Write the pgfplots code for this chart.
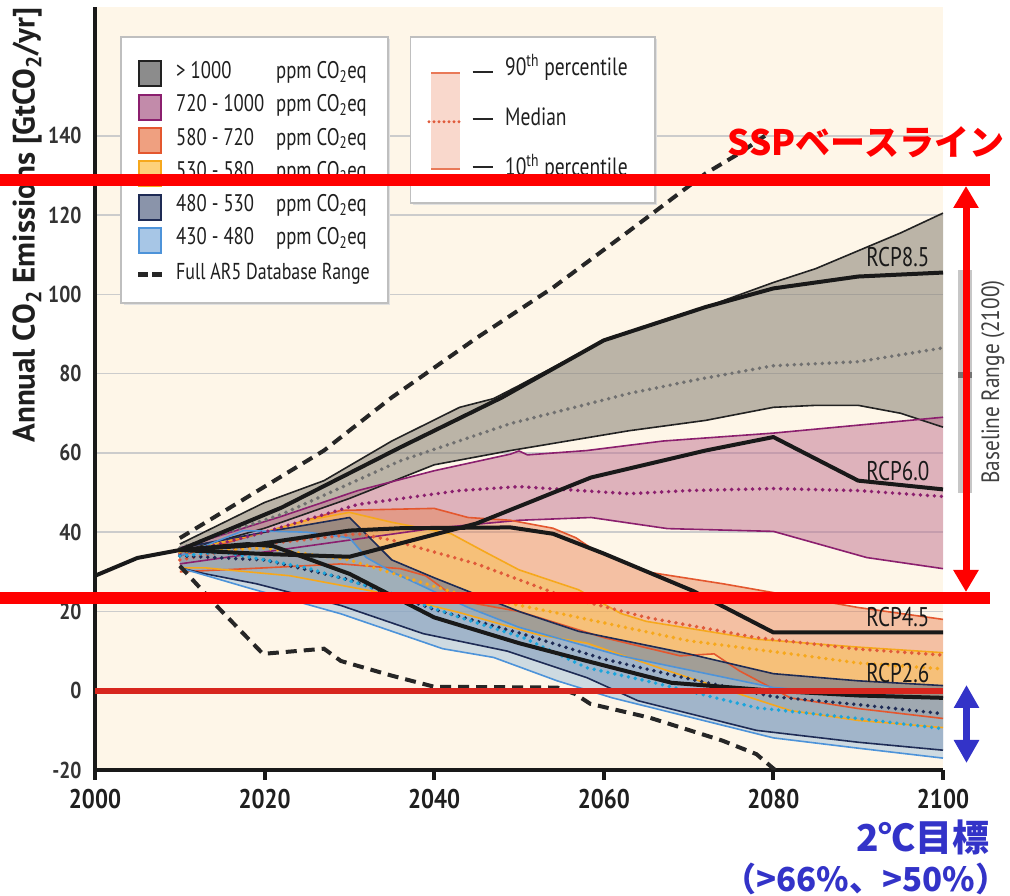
\documentclass[border=0pt]{standalone}
\usepackage{fontspec}
\setmainfont{PT Sans}[FakeStretch=0.85]
\newfontfamily\cond{PT Sans}[FakeStretch=0.78]
\newfontfamily\plain{PT Sans}
\newfontfamily\jp{Noto Sans CJK JP}
\usepackage{pgfplots}
\pgfplotsset{compat=1.18}
\usepgfplotslibrary{fillbetween}
\usetikzlibrary{arrows.meta}

\definecolor{bgbeige}{HTML}{FEF6E8}
\definecolor{zerored}{HTML}{D7261E}
\definecolor{sspred}{HTML}{FF0000}
\definecolor{goalblue}{HTML}{3333C8}
% band edges
\definecolor{egray}{HTML}{222222}
\definecolor{epurple}{HTML}{8B1F6E}
\definecolor{esalmon}{HTML}{E4572E}
\definecolor{eyellow}{HTML}{F6A81C}
\definecolor{enavy}{HTML}{1E2B55}
\definecolor{eblue}{HTML}{4D93D9}
% medians
\definecolor{mgray}{HTML}{707070}
\definecolor{mcyan}{HTML}{1BA5DC}
\definecolor{msalmon}{HTML}{E05A3A}
% band fills
\definecolor{fgray}{HTML}{857F72}
\definecolor{fpurple}{HTML}{C07090}
\definecolor{fsalmon}{HTML}{E88050}
\definecolor{fyellow}{HTML}{F8C050}
\definecolor{fnavy}{HTML}{5A6E92}
\definecolor{fblue}{HTML}{A0C0DC}
% legend swatches
\definecolor{sgray}{HTML}{8C8C8C}
\definecolor{spurple}{HTML}{C28BAA}
\definecolor{ssalmon}{HTML}{EFA080}
\definecolor{syellow}{HTML}{FDD17A}
\definecolor{snavy}{HTML}{8A94AA}
\definecolor{sblue}{HTML}{A7C6E6}
\definecolor{pctfill}{HTML}{F9D8CC}

\tikzset{
  bandedge/.style={line width=1.6pt, line join=round},
  medline/.style={line width=3.9pt, line cap=round, dash pattern=on 0pt off 7pt},
  rcpline/.style={line width=4pt, color=black!90, line join=round},
  dbrange/.style={line width=4pt, color=black!85, dash pattern=on 11pt off 7pt},
}

\begin{document}
\begin{tikzpicture}[x=1pt,y=1pt]

\begin{axis}[
  set layers,
  at={(95pt,125pt)}, anchor=south west,
  scale only axis, width=848pt, height=763pt,
  xmin=2000, xmax=2100, ymin=-20, ymax=172.5,
  axis lines=left,
  axis line style={-, line width=4pt, color=black!90},
  xtick={2000,2020,...,2100}, ytick={-20,0,...,140},
  tick align=outside, major tick length=10pt,
  xtick style={line width=4pt, color=black!90},
  ytick style={draw=none},
  ymajorgrids, grid style={line width=1.5pt, color=black!20},
  axis background/.style={fill=bgbeige},
  /pgf/number format/1000 sep={},
  /pgf/number format/assume math mode=true,
  xticklabel style={font=\fontsize{27}{29}\selectfont\bfseries, text=black!88, yshift=-8pt, inner sep=1pt},
  yticklabel style={font=\fontsize{23}{25}\selectfont\bfseries, text=black!80},
]

% ---------- > 1000 ppm ----------
\addplot[bandedge, egray, name path=gu] coordinates {
 (2010,37) (2020,47.5) (2027,53) (2035,63) (2043,71.5) (2047,73.7) (2050,77)
 (2060,88.4) (2072,96.8) (2080,103) (2085,106.5) (2090,111) (2095,115.5) (2100,120.5)};
\addplot[bandedge, egray, name path=gl] coordinates {
 (2010,35) (2020,41) (2030,48.5) (2040,57) (2049,60.6) (2063,65.6) (2072,68.2)
 (2080,71.5) (2085,72) (2090,72) (2095,70) (2100,66.5)};
\addplot[fill=fgray, fill opacity=0.55, draw=none] fill between[of=gu and gl];

% ---------- 720-1000 ppm ----------
\addplot[bandedge, epurple, name path=pu] coordinates {
 (2010,36) (2022,44) (2031,50.5) (2040,55.5) (2049,59.7) (2050,60.5) (2051,59.5)
 (2058,60.6) (2067,63) (2080,65) (2090,67) (2100,69)};
\addplot[bandedge, epurple, name path=pl] coordinates {
 (2010,32) (2020,35) (2030,38) (2040,41) (2050,43) (2058.5,43.7) (2067.5,40.9)
 (2080,40.2) (2091,33.6) (2100,30.8)};
\addplot[fill=fpurple, fill opacity=0.5, draw=none] fill between[of=pu and pl];

% ---------- 580-720 ppm ----------
\addplot[bandedge, esalmon, name path=su] coordinates {
 (2010,34) (2020,40) (2029,45.5) (2040,46) (2044,43.7) (2049,43) (2054,41)
 (2056.7,38.6) (2058.5,36) (2065,30) (2074,27) (2082,24) (2090,21) (2100,18)};
\addplot[bandedge, esalmon, name path=sl] coordinates {
 (2010,30) (2020,31) (2029,32) (2036,30.8) (2039,29) (2043,22.7) (2050,20)
 (2060,13.4) (2069,8.8) (2073,9.3) (2076,5) (2082,-1.8) (2090,-4.5) (2100,-7)};
\addplot[fill=fsalmon, fill opacity=0.45, draw=none] fill between[of=su and sl];

% ---------- 530-580 ppm ----------
\addplot[bandedge, eyellow, name path=yu] coordinates {
 (2010,35) (2020,40) (2025,43) (2030,45) (2035,42.5) (2042,39.6) (2046,35)
 (2050,30.5) (2057,25.5) (2062,19.5) (2065,17.5) (2078,13) (2090,11) (2100,9.6)};
\addplot[bandedge, eyellow, name path=yl] coordinates {
 (2010,31) (2013,31) (2023,29) (2033,25) (2043,19.7) (2052.5,14) (2058,12)
 (2067.6,5) (2082,-5) (2090,-7.5) (2100,-9.3)};
\addplot[fill=fyellow, fill opacity=0.5, draw=none] fill between[of=yu and yl];

% ---------- 480-530 ppm ----------
\addplot[bandedge, enavy, name path=nu] coordinates {
 (2010,36) (2020,40) (2030,43.7) (2035,33) (2040,28.5) (2050,20) (2057,15)
 (2070,9.3) (2080,4.3) (2090,2.5) (2100,1.3)};
\addplot[bandedge, enavy, name path=nl] coordinates {
 (2010,31) (2013,29.5) (2019,27) (2029,21.5) (2038.7,14.4) (2048.6,10) (2058,3.3)
 (2064,-2.5) (2078,-10) (2090,-13) (2100,-15)};
\addplot[fill=fnavy, fill opacity=0.55, draw=none] fill between[of=nu and nl];

% ---------- 430-480 ppm ----------
\addplot[bandedge, eblue, name path=bu] coordinates {
 (2010,34) (2017.5,40.4) (2025,40) (2030,38.6) (2032,33.6) (2035,30) (2044,21)
 (2050,16) (2062,8.8) (2080,0.8) (2090,-0.8) (2100,-1.8)};
\addplot[bandedge, eblue, name path=bl] coordinates {
 (2010,31) (2018,26) (2029,19.4) (2035,15) (2041,10.6) (2047,8.4) (2054.5,2.5)
 (2061,-1.8) (2080,-11.9) (2090,-14.5) (2100,-17)};
\addplot[fill=fblue, fill opacity=0.5, draw=none] fill between[of=bu and bl];

% ---------- medians ----------
\addplot[medline, mgray] coordinates {
 (2010,36) (2022,44.5) (2036,58) (2049,67.4) (2063,75) (2071,78.5) (2080,82)
 (2090,83) (2100,86.5)};
\addplot[medline, epurple] coordinates {
 (2010,34.5) (2020,40) (2031,47) (2043,50.5) (2050,51.5) (2063,49.7) (2070,50.5)
 (2080,51) (2090,50.5) (2100,49)};
\addplot[medline, msalmon] coordinates {
 (2010,33) (2020,37) (2031,39.6) (2035,38) (2040,35) (2045,32) (2055,24)
 (2065,18.5) (2078,13.4) (2090,10.5) (2100,9)};
\addplot[medline, eyellow] coordinates {
 (2010,35) (2020,36) (2030,33) (2042,25) (2055,19.4) (2070,12.6) (2082,9.3)
 (2090,7) (2100,5.5)};
\addplot[medline, enavy] coordinates {
 (2010,34) (2020,33) (2030,28) (2040,20.5) (2050,14.6) (2060,8) (2070,3)
 (2080,-1.5) (2090,-3.5) (2100,-5.8)};
\addplot[medline, mcyan] coordinates {
 (2010,34) (2015,35) (2025,31) (2035,24.5) (2043,18.5) (2050.5,13.4) (2058,5.8)
 (2065,2.5) (2078,-4.3) (2090,-7) (2100,-9.6)};

% ---------- RCP pathways and history ----------
\addplot[rcpline] coordinates {(2000,29) (2005,33.5) (2010,35.5)};
\addplot[rcpline] coordinates {
 (2010,35.5) (2022,46.2) (2036,61.4) (2048,74) (2060,88.4) (2072,96.8)
 (2080,101.5) (2090,104.5) (2100,105.5)};
\addplot[rcpline] coordinates {
 (2010,35.5) (2020,34.5) (2030,33.8) (2045,42.2) (2058.5,53.8) (2072,60.6)
 (2080,64) (2090,53) (2100,50.8)};
\addplot[rcpline] coordinates {
 (2010,35.5) (2018,36.6) (2030,40.4) (2036,41) (2049,41.2) (2054,39.6) (2060,34.6)
 (2070.5,25.2) (2080,14.7) (2100,14.7)};
\addplot[rcpline] coordinates {
 (2010,35.5) (2018,37) (2021,36.5) (2030,29.5) (2040,18.5) (2050,12) (2058,7.5)
 (2068,2) (2080,0) (2090,-1.2) (2100,-1.8)};

% ---------- full database range ----------
\addplot[dbrange] coordinates {
 (2010,38.5) (2020,51.5) (2027,60.6) (2035,74) (2045,89) (2054,101.7) (2063,116)
 (2072,130.5) (2076,135.6) (2079,140)};
\addplot[dbrange] coordinates {
 (2010,31.5) (2014.3,21.5) (2019.8,9.3) (2027,10.6) (2029,7.5) (2035,3.8) (2040,1)
 (2054.5,0.8) (2056.6,-0.8) (2058.4,-3.3) (2065.4,-6.8) (2074,-12.6) (2078,-16)
 (2080.2,-20)};

% zero line
\addplot[zerored, line width=6pt] coordinates {(2000,0) (2100,0)};

% pathway labels
\node[anchor=east, font=\cond\fontsize{27}{27}\selectfont, text=black!90]
  at (axis cs:2098.8,109.3) {RCP8.5};
\node[anchor=east, font=\cond\fontsize{27}{27}\selectfont, text=black!90]
  at (axis cs:2098.8,55.3) {RCP6.0};
\node[anchor=east, font=\cond\fontsize{27}{27}\selectfont, text=black!90]
  at (axis cs:2098.8,18.7) {RCP4.5};
\node[anchor=east, font=\cond\fontsize{27}{27}\selectfont, text=black!90]
  at (axis cs:2098.8,4.5) {RCP2.6};
\end{axis}

% y axis title
\node[rotate=90, font=\plain\bfseries\fontsize{31}{31}\selectfont, text=black!88]
  at (27,670) {Annual CO\textsubscript{2} Emissions [GtCO\textsubscript{2}/yr]};

% baseline range bar (2100)
\fill[black!22] (958,625) rectangle (972,402);
\fill[black!55] (958,523) rectangle (972,517);
\node[rotate=90, font=\fontsize{25}{25}\selectfont, text=black!75]
  at (993,513) {Baseline Range (2100)};

% ---------- legend: concentration categories ----------
\fill[black!12] (123.5,856) rectangle (390,590);
\filldraw[fill=white, draw=black!25, line width=1.5pt] (121,858) rectangle (388,592);
\foreach \f/\e/\t [count=\i from 0] in {
  sgray/egray/{> 1000},
  spurple/epurple/{720 - 1000},
  ssalmon/esalmon/{580 - 720},
  syellow/eyellow/{530 - 580},
  snavy/enavy/{480 - 530},
  sblue/eblue/{430 - 480}}{
  \pgfmathsetmacro{\yy}{821-33.3*\i}
  \filldraw[fill=\f, draw=\e, line width=2pt] (139,\yy-12.5) rectangle (161,\yy+12.5);
  \node[anchor=mid west, inner sep=0pt, font=\cond\fontsize{24}{24}\selectfont, text=black!88]
    at (176,\yy-2) {\t};
  \node[anchor=mid west, inner sep=0pt, font=\cond\fontsize{24}{24}\selectfont, text=black!88]
    at (276,\yy-2) {ppm CO\textsubscript{2}eq};
}
\draw[line width=5pt, black!85, dash pattern=on 10pt off 4pt] (138,620) -- (162,620);
\node[anchor=mid west, inner sep=0pt, font=\cond\fontsize{23}{23}\selectfont, text=black!88]
  at (176,618) {Full AR5 Database Range};

% ---------- legend: percentiles ----------
\fill[black!12] (413,856) rectangle (657,690);
\filldraw[fill=white, draw=black!25, line width=1.5pt] (410.7,858) rectangle (655,692);
\fill[pctfill] (431,822) rectangle (459.6,726);
\draw[esalmon!80, line width=1.8pt] (431,822) -- (459.6,822);
\draw[esalmon!80, line width=1.8pt] (431,726) -- (459.6,726);
\draw[msalmon, line width=3.2pt, line cap=round, dash pattern=on 0pt off 5pt] (429,773.3) -- (459,773.3);
\foreach \yy in {823.3,775.7,728.3}
  \draw[black!85, line width=2pt] (472.5,\yy) -- (493,\yy);
\node[anchor=mid west, inner sep=0pt, font=\cond\fontsize{25}{25}\selectfont, text=black!88]
  at (505,822) {90\textsuperscript{th} percentile};
\node[anchor=mid west, inner sep=0pt, font=\cond\fontsize{25}{25}\selectfont, text=black!88]
  at (505,772) {Median};
\node[anchor=mid west, inner sep=0pt, font=\cond\fontsize{25}{25}\selectfont, text=black!88]
  at (505,722) {10\textsuperscript{th} percentile};

% ---------- scenario annotations ----------
\draw[sspred, line width=12pt] (0,715) -- (990,715);
\draw[sspred, line width=12pt] (0,297) -- (990,297);
\draw[sspred, line width=7pt, {Triangle[length=22pt,width=24pt]}-{Triangle[length=22pt,width=24pt]}]
  (966,709) -- (966,303);
\draw[goalblue, line width=7pt, {Triangle[length=23pt,width=24pt]}-{Triangle[length=23pt,width=24pt]}]
  (966.5,210) -- (966.5,132);

\node[inner sep=0pt, font=\jp\bfseries\fontsize{35}{40}\selectfont, text=sspred] at (866,753) {SSPベースライン};
\node[inner sep=0pt, font=\jp\bfseries\fontsize{37}{42}\selectfont, text=goalblue] at (923,58) {2℃目標};
\node[inner sep=0pt, font=\jp\bfseries\fontsize{33}{37}\selectfont, text=goalblue] at (866,16) {（>66\%、>50\%）};

\pgfresetboundingbox
\path[use as bounding box] (0,0) rectangle (1010,895);
\end{tikzpicture}
\end{document}
